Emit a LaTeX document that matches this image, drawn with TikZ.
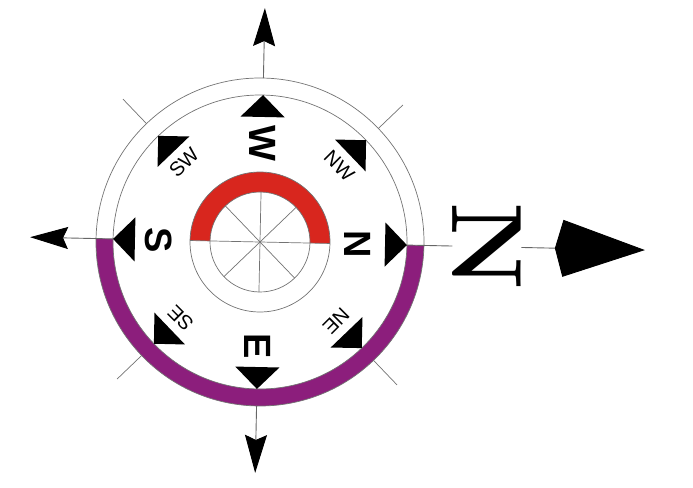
\documentclass[tikz,border=0pt]{standalone}
\usepackage{fontspec}
\newfontfamily\arial{Liberation Sans}
\usetikzlibrary{arrows.meta}
\definecolor{roxo}{RGB}{140,30,124}
\definecolor{vermelho}{RGB}{216,38,30}

\begin{document}
\begin{tikzpicture}[
    x=1pt, y=1pt,
    fina/.style={draw=black!55, line width=0.7pt},
    eixo/.style={draw=black!60, line width=0.9pt},
    marca/.style={fill=black},
    cardeal/.style={font=\arial\bfseries\fontsize{38}{38}\selectfont, inner sep=0pt, rotate=-90},
    colateral/.style={font=\arial\fontsize{20}{20}\selectfont, inner sep=0pt},
    ponta/.style={-{Stealth[length=38pt, width=22pt, inset=5pt, color=black]}}
]

    % 0. Margens da figura
    \useasboundingbox (-260,-245) rectangle (433,242);

    \begin{scope}[rotate=-1.2]

    % 1. Faixas coloridas (roxa embaixo, vermelha em cima)
    \fill[roxo] (180:164) arc[start angle=180, end angle=360, radius=164]
        -- (0:147) arc[start angle=360, end angle=180, radius=147] -- cycle;
    \fill[vermelho] (0:70) arc[start angle=0, end angle=180, radius=70]
        -- (180:50) arc[start angle=180, end angle=0, radius=50] -- cycle;

    % 2. Circunferencias e raios internos
    \draw[fina] (0,0) circle[radius=164];
    \draw[fina] (0,0) circle[radius=147];
    \draw[fina] (0,0) circle[radius=70];
    \draw[fina] (0,0) circle[radius=50];
    \draw[fina] (0:70) -- (180:70);
    \draw[fina] (90:50) -- (270:50);
    \draw[fina] (45:50) -- (225:50);
    \draw[fina] (135:50) -- (315:50);

    % 3. Tracinhos diagonais fora do circulo
    \draw[fina] (45:164) -- (45:198);
    \draw[fina] (135:164) -- (135:198);
    \draw[fina] (225:164) -- (225:198);
    \draw[fina] (315:164) -- (315:198);

    % 4. Triangulos pretos (ponta encostada no circulo de dentro)
    \fill[marca] (0:147) -- (10:127) -- (-10:127) -- cycle;
    \fill[marca] (45:147) -- (55:127) -- (35:127) -- cycle;
    \fill[marca] (90:147) -- (100:127) -- (80:127) -- cycle;
    \fill[marca] (135:147) -- (145:127) -- (125:127) -- cycle;
    \fill[marca] (180:147) -- (190:127) -- (170:127) -- cycle;
    \fill[marca] (225:147) -- (235:127) -- (215:127) -- cycle;
    \fill[marca] (270:147) -- (280:127) -- (260:127) -- cycle;
    \fill[marca] (315:147) -- (325:127) -- (305:127) -- cycle;

    % 5. Letras dos pontos cardeais e colaterais
    \node[cardeal] (rotN) at (0:98) {N};
    \node[cardeal] (rotW) at (90:99) {W};
    \node[cardeal] (rotS) at (180:101) {S};
    \node[cardeal] (rotE) at (270:104) {E};
    \node[colateral, rotate=-45] (rotNW) at (45:110) {NW};
    \node[colateral, rotate=45] (rotSW) at (135:110) {SW};
    \node[colateral, rotate=135] (rotSE) at (225:110) {SE};
    \node[colateral, rotate=-135] (rotNE) at (315:110) {NE};

    % 6. Eixos com setas
    \coordinate (Cima) at (90:164);
    \coordinate (Cima2) at (90:234);
    \coordinate (Esq) at (180:147);
    \coordinate (Esq2) at (180:230);
    \coordinate (Baixo) at (270:164);
    \coordinate (Baixo2) at (270:231);
    \coordinate (Dir) at (0:147);
    \coordinate (Dir2) at (0:385);

    \draw[eixo, ponta] (Cima) -- (Cima2);
    \draw[eixo, ponta] (Esq) -- (Esq2);
    \draw[eixo, ponta] (Baixo) -- (Baixo2);

    % 7. N grande e seta principal
    \node[font=\bfseries\fontsize{100}{100}\selectfont, rotate=-90, inner sep=0pt] (Nfora) at (0:227) {N};
    \draw[eixo] (Dir) -- (Nfora);
    \draw[eixo, -{Kite[length=90pt, width=57pt, inset=8pt, color=black]}] (Nfora) -- (Dir2);

    \end{scope}

\end{tikzpicture}
\end{document}
